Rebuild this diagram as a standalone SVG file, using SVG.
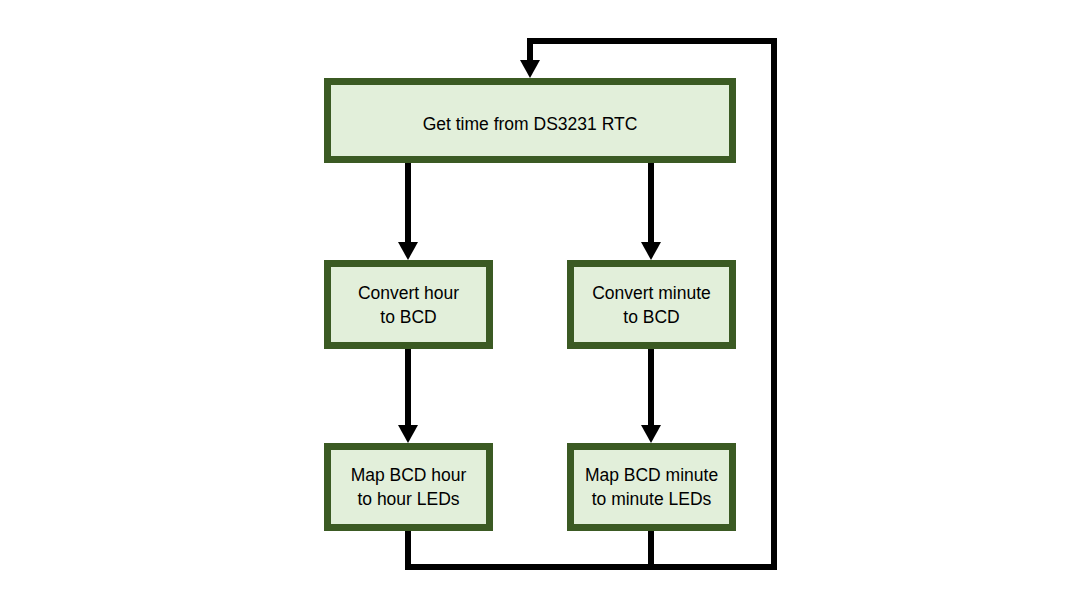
<svg xmlns="http://www.w3.org/2000/svg" width="1080" height="608" viewBox="0 0 1080 608">
<style>
.box{fill:#e2efda;stroke:#3b5a23;stroke-width:7}
.lbl{font-family:"Liberation Sans",Arial,sans-serif;font-size:17.5px;fill:#000;text-anchor:middle}
.ln{fill:none;stroke:#000;stroke-width:6}
</style>
<rect width="1080" height="608" fill="#fff"/>
<g id="connectors">
<path class="ln" d="M408,163 V244"/>
<polygon points="398,242 418,242 408,260" fill="#000"/>
<path class="ln" d="M651,163 V244"/>
<polygon points="641,242 661,242 651,260" fill="#000"/>
<path class="ln" d="M408,349 V427"/>
<polygon points="398,425 418,425 408,443" fill="#000"/>
<path class="ln" d="M651,349 V427"/>
<polygon points="641,425 661,425 651,443" fill="#000"/>
<path class="ln" d="M408,531 V567 H774 V41 H530 V62"/>
<path class="ln" d="M651,531 V567"/>
<polygon points="520,60 540,60 530,78" fill="#000"/>
</g>
<g id="n1">
<rect class="box" x="327.5" y="81.5" width="405" height="78"/>
<text class="lbl" x="530" y="130">Get time from DS3231 RTC</text>
</g>
<g id="n2">
<rect class="box" x="327.5" y="263.5" width="162" height="82"/>
<text class="lbl" x="408.5" y="299">Convert hour</text>
<text class="lbl" x="408.5" y="323">to BCD</text>
</g>
<g id="n3">
<rect class="box" x="570.5" y="263.5" width="162" height="82"/>
<text class="lbl" x="651.5" y="299">Convert minute</text>
<text class="lbl" x="651.5" y="323">to BCD</text>
</g>
<g id="n4">
<rect class="box" x="327.5" y="446.5" width="162" height="81"/>
<text class="lbl" x="408.5" y="481">Map BCD hour</text>
<text class="lbl" x="408.5" y="505">to hour LEDs</text>
</g>
<g id="n5">
<rect class="box" x="570.5" y="446.5" width="162" height="81"/>
<text class="lbl" x="651.5" y="481">Map BCD minute</text>
<text class="lbl" x="651.5" y="505">to minute LEDs</text>
</g>
</svg>
